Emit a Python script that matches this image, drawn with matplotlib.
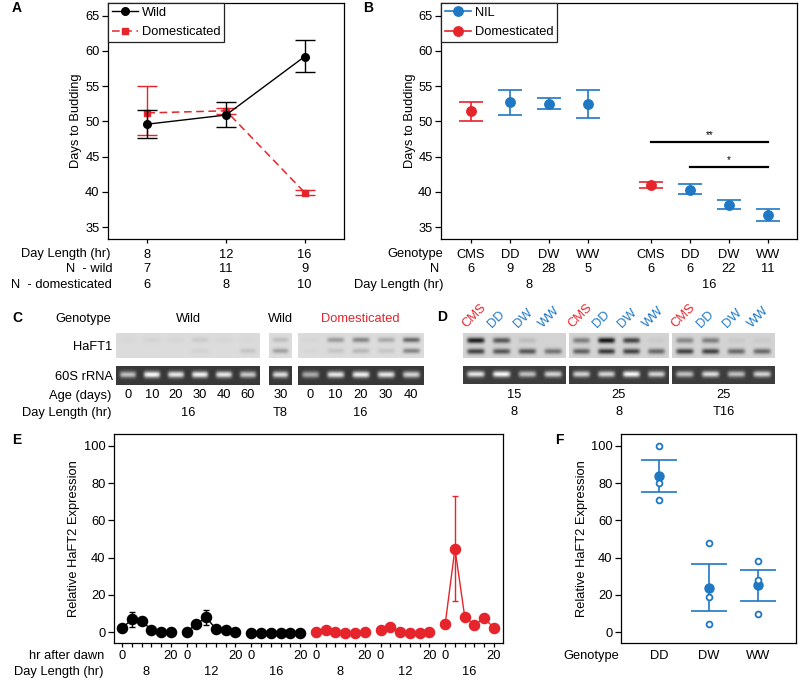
import numpy as np
import matplotlib
matplotlib.use("Agg")
import matplotlib.pyplot as plt
from matplotlib.lines import Line2D
from matplotlib.transforms import blended_transform_factory as blend

plt.rcParams['font.family'] = ['Liberation Sans', 'DejaVu Sans']
plt.rcParams['font.size'] = 9.3
plt.rcParams['axes.linewidth'] = 0.9
plt.rcParams['xtick.major.width'] = 0.9
plt.rcParams['ytick.major.width'] = 0.9

W, H = 800, 686
RED = '#e6242b'
BLUE = '#1f78c4'

# ---------------- data: panel A
dl_a = [8, 12, 16]
n_wild = [7, 11, 9]
n_dom = [6, 8, 10]
wild_mean = [49.6, 50.9, 59.2]
wild_lo = [47.6, 49.2, 57.0]
wild_hi = [51.6, 52.7, 61.6]
dom_mean = [51.2, 51.5, 39.9]
dom_lo = [48.1, 51.1, 39.5]
dom_hi = [55.0, 51.9, 40.3]

# ---------------- data: panel B
geno_b = ['CMS', 'DD', 'DW', 'WW', 'CMS', 'DD', 'DW', 'WW']
n_b = [6, 9, 28, 5, 6, 6, 22, 11]
dl_b = ['8', '16']
b_mean = [51.4, 52.7, 52.5, 52.4, 41.0, 40.3, 38.1, 36.7]
b_lo = [50.1, 50.9, 51.7, 50.5, 40.6, 39.7, 37.5, 35.9]
b_hi = [52.7, 54.5, 53.3, 54.4, 41.4, 41.1, 38.8, 37.6]
sig_pairs = [(4, 7, 47.1, '**'), (5, 7, 43.5, '*')]

# ---------------- data: panel C (gel band intensities, 0..1)
c_geno = ['Wild', 'Wild', 'Domesticated']
c_daylen = ['16', 'T8', '16']
c_ages = [[0, 10, 20, 30, 40, 60], [30], [0, 10, 20, 30, 40]]
c_upper = [[0.03, 0.05, 0.04, 0.12, 0.04, 0.03], [0.2], [0.04, 0.45, 0.6, 0.35, 0.8]]
c_lower = [[0.0, 0.0, 0.0, 0.06, 0.0, 0.15], [0.4], [0.03, 0.15, 0.25, 0.15, 0.6]]
c_rrna = [[0.7, 1.0, 0.9, 0.95, 0.9, 0.75], [0.85], [0.6, 0.9, 0.95, 0.9, 0.8]]

# ---------------- data: panel D
d_lanes = ['CMS', 'DD', 'DW', 'WW']
d_age = ['15', '25', '25']
d_daylen = ['8', '8', 'T16']
d_upper = [[0.95, 0.65, 0.12, 0.0], [0.45, 1.0, 0.75, 0.05], [0.4, 0.45, 0.06, 0.05]]
d_lower = [[0.75, 0.65, 0.65, 0.5], [0.6, 0.8, 0.75, 0.55], [0.75, 0.75, 0.55, 0.55]]
d_rrna = [[0.9, 1.0, 0.7, 0.8], [0.8, 0.8, 1.0, 0.8], [0.7, 0.85, 0.7, 0.8]]

# ---------------- data: panel E
hrs = [0, 4, 8, 12, 16, 20]
e_daylen = [8, 12, 16, 8, 12, 16]
e_wild = [[2.0, 6.8, 6.1, 1.1, 0.2, 0.2],
          [0.2, 4.3, 7.9, 1.6, 0.9, 0.2],
          [-0.3, -0.3, -0.3, -0.3, -0.3, -0.3]]
e_wild_sem = [[0, 4.2, 0, 0, 0, 0],
              [0, 0, 3.9, 0, 0, 0],
              [0, 0, 0, 0, 0, 0]]
e_dom = [[0.2, 1.3, 0.2, -0.4, -0.4, 0.2],
         [0.9, 2.9, 0.2, -0.4, -0.4, 0.2],
         [4.3, 44.8, 8.3, 3.9, 7.3, 2.3]]
e_dom_sem = [[0, 0, 0, 0, 0, 0],
             [0, 0, 0, 0, 0, 0],
             [0, 28.3, 0, 0, 0, 0]]

# ---------------- data: panel F
f_geno = ['DD', 'DW', 'WW']
f_points = [[100, 80, 71], [47.7, 18.6, 4.1], [37.9, 27.9, 9.6]]
f_mean = [83.7, 23.9, 25.2]
f_sem = [8.6, 12.8, 8.3]


fig = plt.figure(figsize=(W / 100, H / 100), dpi=100)


def px_axes(l, t, r, b):
    return fig.add_axes([l / W, 1 - b / H, (r - l) / W, (b - t) / H])


def ftext(x, y, s, **kw):
    kw.setdefault('va', 'center')
    fig.text(x / W, 1 - y / H, s, **kw)


def yrow(ax):
    return blend(ax.transData, fig.transFigure)


def fy(y):
    return 1 - y / H


# ======================= A
axA = px_axes(108, 3, 344, 239)
axA.errorbar(dl_a, wild_mean,
             yerr=[np.subtract(wild_mean, wild_lo), np.subtract(wild_hi, wild_mean)],
             color='black', marker='o', ms=5.5, lw=1.0, capsize=7.2, elinewidth=1.0,
             capthick=1.0, zorder=3)
axA.errorbar(dl_a, dom_mean,
             yerr=[np.subtract(dom_mean, dom_lo), np.subtract(dom_hi, dom_mean)],
             color=RED, marker='s', ms=4.5, lw=1.1, ls=(0, (5, 3)), capsize=7.2,
             elinewidth=1.0, capthick=1.0, zorder=2)
axA.set_xlim(6, 18)
axA.set_ylim(33.3, 66.8)
axA.set_yticks([35, 40, 45, 50, 55, 60, 65])
axA.set_xticks(dl_a)
axA.set_xticklabels([str(v) for v in dl_a])
axA.tick_params(axis='x', length=3, pad=4.2)
axA.tick_params(axis='y', length=4, pad=2)
for x, a, b in zip(dl_a, n_wild, n_dom):
    axA.text(x, fy(269.5), str(a), transform=yrow(axA), ha='center', va='center')
    axA.text(x, fy(285), str(b), transform=yrow(axA), ha='center', va='center')
axA.set_ylabel('Days to Budding')
axA.yaxis.set_label_coords(-26.5 / 236, 0.5)
hA = [Line2D([], [], color='black', marker='o', ms=5.5, lw=1.0),
      Line2D([], [], color=RED, marker='s', ms=4.5, lw=1.1, ls=(0, (5, 3)))]
legA = axA.legend(hA, ['Wild', 'Domesticated'], loc='upper left', bbox_to_anchor=(0, 1),
                  borderaxespad=0, fancybox=False, edgecolor='#222222', framealpha=1,
                  handlelength=2.0, handletextpad=0.3, borderpad=0.3, labelspacing=0.55)
legA.get_frame().set_linewidth(0.9)
ftext(110, 254, 'Day Length (hr)', ha='right')
ftext(112, 269.5, 'N  - wild', ha='right')
ftext(112, 285, 'N  - domesticated', ha='right')

# ======================= B
axB = px_axes(441, 3, 797, 239)
pos_b = np.arange(len(geno_b)) + 1 + np.where(np.arange(len(geno_b)) >= 4, 0.6, 0.0)
for x, m, lo, hi, g in zip(pos_b, b_mean, b_lo, b_hi, geno_b):
    c = RED if g == 'CMS' else BLUE
    axB.errorbar([x], [m], yerr=[[m - lo], [hi - m]], fmt='o', color=c, ms=6.8,
                 capsize=8.3, elinewidth=1.2, capthick=1.2)
for i, j, yv, s in sig_pairs:
    axB.plot([pos_b[i], pos_b[j]], [yv, yv], color='black', lw=1.6)
    axB.text((pos_b[i] + pos_b[j]) / 2, yv + 0.3, s, ha='center', va='bottom', fontsize=7)
axB.set_xlim(0.24, 9.34)
axB.set_ylim(33.3, 66.8)
axB.set_yticks([35, 40, 45, 50, 55, 60, 65])
axB.set_xticks(pos_b)
axB.set_xticklabels(geno_b)
axB.tick_params(axis='x', length=3, pad=4.2)
axB.tick_params(axis='y', length=4, pad=2)
for x, n in zip(pos_b, n_b):
    axB.text(x, fy(269.5), str(n), transform=yrow(axB), ha='center', va='center')
axB.set_ylabel('Days to Budding')
axB.yaxis.set_label_coords(-24.5 / 356, 0.5)
hB = [Line2D([], [], color=BLUE, marker='o', ms=6.8, lw=1.2),
      Line2D([], [], color=RED, marker='o', ms=6.8, lw=1.2)]
legB = axB.legend(hB, ['NIL', 'Domesticated'], loc='upper left', bbox_to_anchor=(0, 1),
                  borderaxespad=0, fancybox=False, edgecolor='#222222', framealpha=1,
                  handlelength=2.0, handletextpad=0.3, borderpad=0.3, labelspacing=0.55)
legB.get_frame().set_linewidth(0.9)
ftext(443, 254, 'Genotype', ha='right')
ftext(439, 269.5, 'N', ha='right')
ftext(443, 285, 'Day Length (hr)', ha='right')
axB.text(pos_b[:4].mean(), fy(285), dl_b[0], transform=yrow(axB), ha='center', va='center')
axB.text(pos_b[4:].mean(), fy(285), dl_b[1], transform=yrow(axB), ha='center', va='center')


# ======================= gels
def gel(ax, bands, bg, ink, sharp=0.11):
    n = len(bands[0][1])
    ny, per = 50, 40
    img = np.full((ny, n * per), bg, dtype=float)
    yy = np.linspace(1, 0, ny)[:, None]
    xx = (np.arange(n * per) + 0.5) / per - 0.5
    for yc, vals in bands:
        for i, v in enumerate(vals):
            px = np.exp(-((xx - i) / 0.34) ** 6)
            py = np.exp(-((yy - yc) / sharp) ** 2)
            img += (ink - bg) * v * px[None, :] * py
    img = np.clip(img, 0, 1)
    ax.imshow(img, cmap='gray', vmin=0, vmax=1, aspect='auto',
              extent=(-0.5, n - 0.5, 0, 1), interpolation='bilinear')
    ax.set_xlim(-0.5, n - 0.5)
    ax.set_ylim(0, 1)
    for s in ax.spines.values():
        s.set_visible(False)
    ax.set_yticks([])
    ax.set_xticks([])


# ======================= C
c_px = [(116, 260), (269, 292), (298, 423)]
for k, (l, r) in enumerate(c_px):
    a1 = px_axes(l, 333, r, 358)
    gel(a1, [(0.7, c_upper[k]), (0.27, c_lower[k])], 0.86, 0.3, sharp=0.1)
    a2 = px_axes(l, 366, r, 385)
    gel(a2, [(0.55, c_rrna[k])], 0.22, 0.98, sharp=0.17)
    a2.set_xticks(range(len(c_ages[k])))
    a2.set_xticklabels([str(v) for v in c_ages[k]])
    a2.tick_params(axis='x', length=0, pad=3.2)
    a2.text((len(c_ages[k]) - 1) / 2, fy(413), c_daylen[k], transform=yrow(a2),
            ha='center', va='center')
    a1.text((len(c_ages[k]) - 1) / 2, fy(319), c_geno[k], transform=yrow(a1),
            ha='center', va='center', color=RED if c_geno[k] == 'Domesticated' else 'black')
ftext(55, 319, 'Genotype', ha='left')
ftext(112, 347, 'HaFT1', ha='right')
ftext(113, 377, '60S rRNA', ha='right')
ftext(111, 396, 'Age (days)', ha='right')
ftext(111, 413, 'Day Length (hr)', ha='right')

# ======================= D
d_px = [(463, 566), (569, 669), (672, 775)]
for k, (l, r) in enumerate(d_px):
    a1 = px_axes(l, 333, r, 358)
    gel(a1, [(0.68, d_upper[k]), (0.25, d_lower[k])], 0.83, 0.08, sharp=0.11)
    for i, lab in enumerate(d_lanes):
        a1.text(i - 0.3, 1.12, lab, transform=blend(a1.transData, a1.transAxes),
                rotation=45, rotation_mode='anchor', ha='left', va='bottom',
                color=RED if lab == 'CMS' else BLUE)
    a2 = px_axes(l, 366, r, 384)
    gel(a2, [(0.55, d_rrna[k])], 0.24, 0.98, sharp=0.17)
    a2.text(1.5, fy(395), d_age[k], transform=yrow(a2), ha='center', va='center')
    a2.text(1.5, fy(412), d_daylen[k], transform=yrow(a2), ha='center', va='center')

# ======================= E
axE = px_axes(114, 434, 503, 643)
gap = 26.5
xt, xl = [], []
for g in range(6):
    xs = g * gap + np.array(hrs)
    if g < 3:
        ys, se, col = e_wild[g], e_wild_sem[g], 'black'
    else:
        ys, se, col = e_dom[g - 3], e_dom_sem[g - 3], RED
    axE.plot(xs, ys, color=col, marker='o', ms=7.3, lw=1.0, zorder=3)
    idx = [i for i, v in enumerate(se) if v > 0]
    if idx:
        axE.errorbar(xs[idx], np.array(ys)[idx], yerr=np.array(se)[idx], fmt='none',
                     ecolor=col, elinewidth=1.0, capsize=2.2, capthick=1.0, zorder=2)
    xt += list(xs)
    xl += ['0', '', '', '', '', '20']
    axE.text(g * gap + 10, fy(672), str(e_daylen[g]), transform=yrow(axE),
             ha='center', va='center')
axE.set_xticks(xt)
axE.set_xticklabels(xl)
axE.set_xlim(-3.3, 5 * gap + 23.7)
axE.set_ylim(-5.9, 106.4)
axE.set_yticks([0, 20, 40, 60, 80, 100])
axE.tick_params(axis='x', length=3, pad=2)
axE.tick_params(axis='y', length=4, pad=2)
axE.set_ylabel('Relative HaFT2 Expression')
axE.yaxis.set_label_coords(-33.5 / 389, 0.5)
ftext(104, 656, 'hr after dawn', ha='right')
ftext(104, 672, 'Day Length (hr)', ha='right')

# ======================= F
axF = px_axes(621, 434, 796, 643)
xf = np.arange(1, len(f_geno) + 1)
for x, pts, m, s in zip(xf, f_points, f_mean, f_sem):
    axF.errorbar([x], [m], yerr=[s], fmt='o', color=BLUE, ms=6.5, capsize=13,
                 elinewidth=1.2, capthick=1.2, zorder=3)
    axF.plot([x] * len(pts), pts, ls='none', marker='o', ms=4.2, mfc='white',
             mec=BLUE, mew=1.3, zorder=4)
axF.set_xlim(0.24, 3.76)
axF.set_ylim(-5.9, 106.4)
axF.set_yticks([0, 20, 40, 60, 80, 100])
axF.set_xticks(xf)
axF.set_xticklabels(f_geno)
axF.tick_params(axis='x', length=0, pad=4.8)
axF.tick_params(axis='y', length=4, pad=2)
axF.set_ylabel('Relative HaFT2 Expression')
axF.yaxis.set_label_coords(-33.5 / 175, 0.5)
ftext(563, 656, 'Genotype', ha='left')

# ======================= panel letters
for s, x, y in [('A', 12, 8), ('B', 363, 8), ('C', 12, 318), ('D', 437, 317),
                ('E', 12, 440), ('F', 555, 440)]:
    ftext(x, y, s, ha='left', fontweight='bold', fontsize=10)

fig.savefig('out.png', dpi=100)
